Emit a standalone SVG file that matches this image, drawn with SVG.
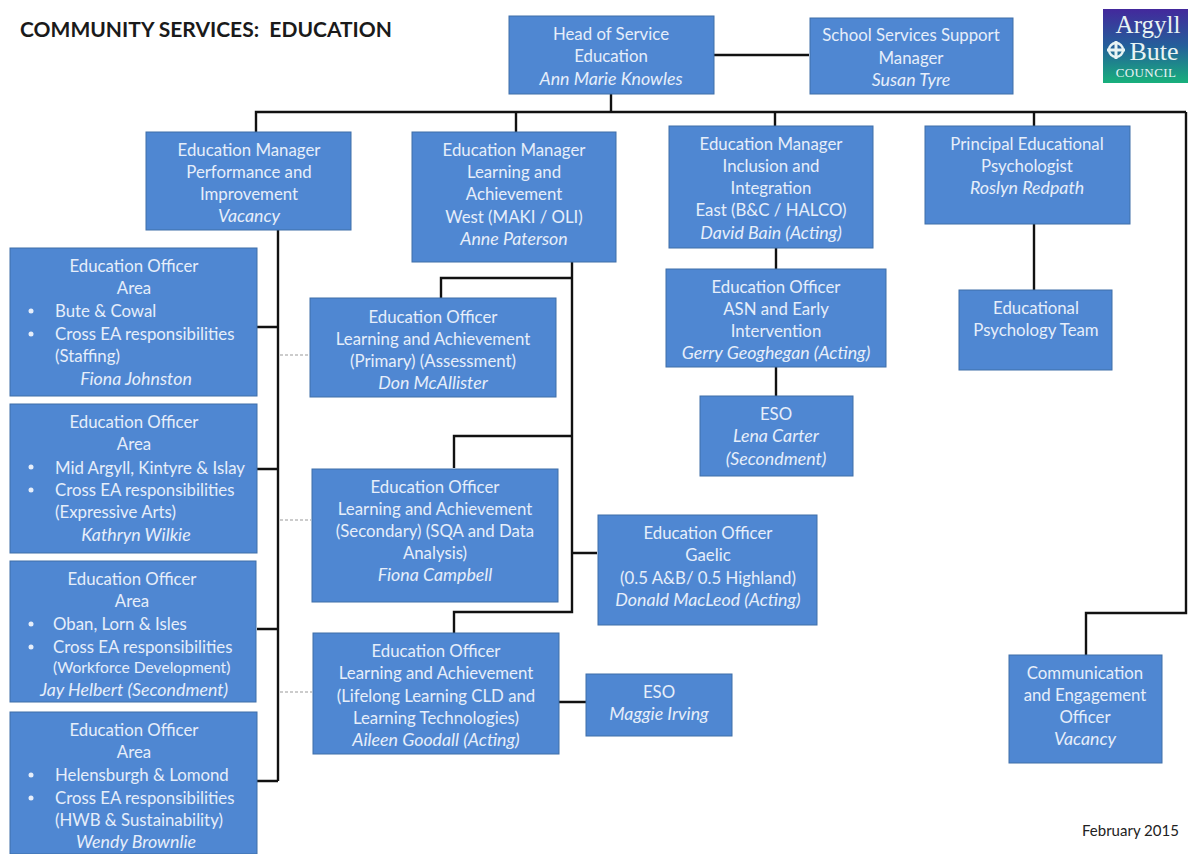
<svg xmlns="http://www.w3.org/2000/svg" width="1188" height="854" viewBox="0 0 1188 854">
<style>
.b{fill:#4f87d2;stroke:#3f6ea8;stroke-width:1}
text{font-family:"Lato","Open Sans",sans-serif;font-size:16.8px;fill:#e6eefa;transform:translateY(1px)}
.m{text-anchor:middle}
.i{font-style:italic;font-size:17.8px}
.c{fill:none;stroke:#111;stroke-width:2.4}
.d{fill:none;stroke:#999;stroke-width:1.2;stroke-dasharray:3 2}
.u{fill:#e6eefa}
.s{font-family:"Liberation Serif",serif;fill:#e8f4f4;text-anchor:middle;transform:none}
</style>
<defs><linearGradient id="g" x1="0" y1="0" x2="0" y2="1"><stop offset="0" stop-color="#43289c"/><stop offset="0.5" stop-color="#245f9a"/><stop offset="1" stop-color="#18b07c"/></linearGradient></defs>
<rect width="1188" height="854" fill="#fff"/>
<text x="20" y="36" style="font-family:'Lato',sans-serif;font-size:21px;font-weight:bold;fill:#1a1a1a;white-space:pre" textLength="372" lengthAdjust="spacingAndGlyphs">COMMUNITY SERVICES:  EDUCATION</text>
<g id="connectors">
<path class="c" d="M714 55H809"/>
<path class="c" d="M611 94V112M256 132V112H1186"/>
<path class="c" d="M516 112V132M775 112V126M1034 112V126"/>
<path class="c" d="M278 230V781M257 327H278M257 469H278M257 629H278M257 781H278"/>
<path class="c" d="M572 262V612H454V633M441 298V278H572M454 468V436H572M572 553H597"/>
<path class="c" d="M776 248V269M776 367V396M1034 224V290M559 702H586"/>
<path class="c" d="M1186 112V613H1086V655"/>
<path class="d" d="M280 355H309M280 520H311M280 692H312"/>
</g>
<g id="head"><rect class="b" x="509" y="16" width="205" height="78"/><text class="m" x="611" y="39">Head of Service</text><text class="m" x="611" y="61">Education</text><text class="m i" x="611" y="84">Ann Marie Knowles</text></g>
<g id="support"><rect class="b" x="810" y="18" width="203" height="76"/><text class="m" x="911" y="40">School Services Support</text><text class="m" x="911" y="63">Manager</text><text class="m i" x="911" y="85">Susan Tyre</text></g>
<g id="logo"><rect x="1103" y="9" width="85" height="74" fill="url(#g)"/><text class="s" x="1148" y="33" style="font-size:25px">Argyll</text><circle cx="1116" cy="50" r="7" fill="none" stroke="#e8f4f4" stroke-width="2.4"/><path d="M1116 41V59M1107 50H1125" stroke="#e8f4f4" stroke-width="3"/><text class="s" x="1154" y="60" style="font-size:26px">Bute</text><text class="s" x="1146" y="77" style="font-size:13px;letter-spacing:.4px">COUNCIL</text></g>
<g id="em1"><rect class="b" x="146" y="132" width="205" height="98"/><text class="m" x="249" y="155">Education Manager</text><text class="m" x="249" y="177">Performance and</text><text class="m" x="249" y="199">Improvement</text><text class="m i" x="249" y="221">Vacancy</text></g>
<g id="em2"><rect class="b" x="412" y="132" width="204" height="130"/><text class="m" x="514" y="155">Education Manager</text><text class="m" x="514" y="177">Learning and</text><text class="m" x="514" y="199">Achievement</text><text class="m" x="514" y="222">West (MAKI / OLI)</text><text class="m i" x="514" y="244">Anne Paterson</text></g>
<g id="em3"><rect class="b" x="669" y="126" width="204" height="122"/><text class="m" x="771" y="149">Education Manager</text><text class="m" x="771" y="171">Inclusion and</text><text class="m" x="771" y="193">Integration</text><text class="m" x="771" y="215">East (B&amp;C / HALCO)</text><text class="m i" x="771" y="238">David Bain (Acting)</text></g>
<g id="psych"><rect class="b" x="925" y="126" width="205" height="98"/><text class="m" x="1027" y="149">Principal Educational</text><text class="m" x="1027" y="171">Psychologist</text><text class="m i" x="1027" y="193">Roslyn Redpath</text></g>
<g id="eo-asn"><rect class="b" x="666" y="269" width="220" height="98"/><text class="m" x="776" y="292">Education Officer</text><text class="m" x="776" y="314">ASN and Early</text><text class="m" x="776" y="336">Intervention</text><text class="m i" x="776" y="358">Gerry Geoghegan (Acting)</text></g>
<g id="psych-team"><rect class="b" x="959" y="290" width="153" height="80"/><text class="m" x="1036" y="313">Educational</text><text class="m" x="1036" y="335">Psychology Team</text></g>
<g id="eso-lena"><rect class="b" x="700" y="396" width="153" height="80"/><text class="m" x="776" y="419">ESO</text><text class="m i" x="776" y="441">Lena Carter</text><text class="m i" x="776" y="464">(Secondment)</text></g>
<g id="eo-primary"><rect class="b" x="310" y="298" width="246" height="99"/><text class="m" x="433" y="322">Education Officer</text><text class="m" x="433" y="344">Learning and Achievement</text><text class="m" x="433" y="366">(Primary) (Assessment)</text><text class="m i" x="433" y="388">Don McAllister</text></g>
<g id="eo-secondary"><rect class="b" x="312" y="469" width="246" height="133"/><text class="m" x="435" y="492">Education Officer</text><text class="m" x="435" y="514">Learning and Achievement</text><text class="m" x="435" y="536">(Secondary) (SQA and Data</text><text class="m" x="435" y="558">Analysis)</text><text class="m i" x="435" y="580">Fiona Campbell</text></g>
<g id="eo-gaelic"><rect class="b" x="598" y="515" width="219" height="110"/><text class="m" x="708" y="538">Education Officer</text><text class="m" x="708" y="560">Gaelic</text><text class="m" x="708" y="583">(0.5 A&amp;B/ 0.5 Highland)</text><text class="m i" x="708" y="605">Donald MacLeod (Acting)</text></g>
<g id="eo-lifelong"><rect class="b" x="313" y="633" width="246" height="121"/><text class="m" x="436" y="656">Education Officer</text><text class="m" x="436" y="678">Learning and Achievement</text><text class="m" x="436" y="701">(Lifelong Learning CLD and</text><text class="m" x="436" y="723">Learning Technologies)</text><text class="m i" x="436" y="745">Aileen Goodall (Acting)</text></g>
<g id="eso-maggie"><rect class="b" x="586" y="674" width="146" height="62"/><text class="m" x="659" y="697">ESO</text><text class="m i" x="659" y="719">Maggie Irving</text></g>
<g id="comms"><rect class="b" x="1009" y="655" width="153" height="108"/><text class="m" x="1085" y="678">Communication</text><text class="m" x="1085" y="700">and Engagement</text><text class="m" x="1085" y="722">Officer</text><text class="m i" x="1085" y="744">Vacancy</text></g>
<g id="eo-a1"><rect class="b" x="10" y="248" width="247" height="148"/><text class="m" x="134" y="271">Education Officer</text><text class="m" x="134" y="293">Area</text><circle class="u" cx="31" cy="311" r="2.5"/><text x="55" y="316">Bute &amp; Cowal</text><circle class="u" cx="31" cy="334" r="2.5"/><text x="55" y="339">Cross EA responsibilities</text><text x="55" y="361">(Staffing)</text><text class="m i" x="136" y="384">Fiona Johnston</text></g>
<g id="eo-a2"><rect class="b" x="10" y="404" width="247" height="149"/><text class="m" x="134" y="427">Education Officer</text><text class="m" x="134" y="449">Area</text><circle class="u" cx="31" cy="467" r="2.5"/><text x="55" y="473">Mid Argyll, Kintyre &amp; Islay</text><circle class="u" cx="31" cy="490" r="2.5"/><text x="55" y="495">Cross EA responsibilities</text><text x="55" y="517">(Expressive Arts)</text><text class="m i" x="136" y="540">Kathryn Wilkie</text></g>
<g id="eo-a3"><rect class="b" x="10" y="561" width="246" height="141"/><text class="m" x="132" y="584">Education Officer</text><text class="m" x="132" y="606">Area</text><circle class="u" cx="31" cy="624" r="2.5"/><text x="53" y="629">Oban, Lorn &amp; Isles</text><circle class="u" cx="31" cy="647" r="2.5"/><text x="53" y="652">Cross EA responsibilities</text><text x="53" y="672" style="font-size:15.6px">(Workforce Development)</text><text class="m i" x="134" y="695">Jay Helbert (Secondment)</text></g>
<g id="eo-a4"><rect class="b" x="10" y="712" width="247" height="142"/><text class="m" x="134" y="735">Education Officer</text><text class="m" x="134" y="757">Area</text><circle class="u" cx="31" cy="775" r="2.5"/><text x="55" y="780">Helensburgh &amp; Lomond</text><circle class="u" cx="31" cy="798" r="2.5"/><text x="55" y="803">Cross EA responsibilities</text><text x="55" y="825">(HWB &amp; Sustainability)</text><text class="m i" x="136" y="847">Wendy Brownlie</text></g>
<text x="1082" y="835" style="font-family:'Lato',sans-serif;font-size:15px;fill:#222">February 2015</text>
</svg>
